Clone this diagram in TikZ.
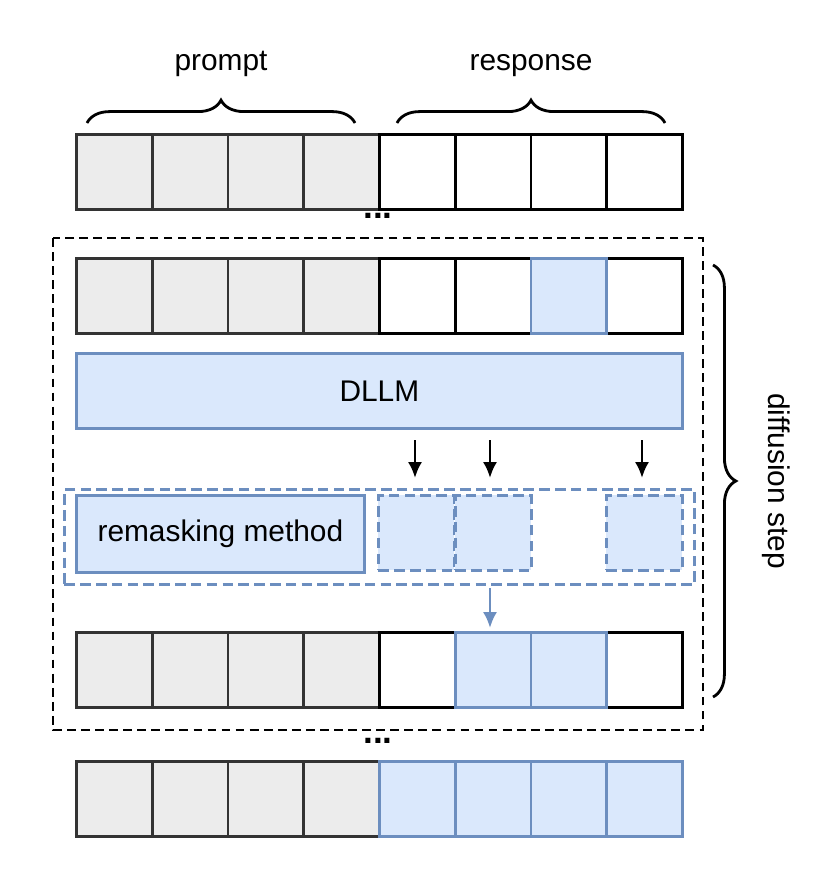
\documentclass[tikz,border=0pt]{standalone}
\usepackage{fontspec}
\setmainfont{Liberation Sans}
\usetikzlibrary{positioning,decorations.pathreplacing,arrows.meta}

\begin{document}
\begin{tikzpicture}[x=0.02cm,y=-0.02cm, >={Latex[length=9pt,width=8pt]},
	font=\fontsize{17}{20}\selectfont]
	\tikzset{cell/.style={draw, line width=1.6pt, minimum width=75.75*0.02cm, minimum height=75*0.02cm, inner sep=0pt, anchor=north west},
		grey/.style={cell, fill=gray!15, draw=black!80},
		blue/.style={cell, fill={rgb,255:red,218;green,232;blue,252}, draw={rgb,255:red,108;green,142;blue,191}},
		empty/.style={cell, fill=white},
		dashcell/.style={blue, dash pattern=on 6pt off 3pt},
		brace/.style={decorate, decoration={brace, amplitude=13pt, aspect=0.5}, line width=1.6pt}}
	\useasboundingbox (0,0) rectangle (830,896);
	%Top Row
	\foreach \i in {0,...,3} \node[grey](a\i) at (75+75.75*\i,133){};
	\foreach \i in {4,...,7} \node[empty](a\i) at (75+75.75*\i,133){};
	%Second Row
	\foreach \i in {0,...,3} \node[grey](b\i) at (75+75.75*\i,257){};
	\foreach \i in {4,5,7} \node[empty](b\i) at (75+75.75*\i,257){};
	\node[blue](b6) at (75+75.75*6,257){};
	%DLLM
	\node[blue, minimum width=606*0.02cm](dllm) at (75,352){DLLM};
	%Remasking
	\node[draw={rgb,255:red,108;green,142;blue,191}, dash pattern=on 6pt off 3pt, line width=1.6pt, minimum width=630*0.02cm, minimum height=95*0.02cm, anchor=north west](rbox) at (63,488){};
	\node[blue, minimum width=288*0.02cm, minimum height=77*0.02cm](remask) at (75,494){remasking method};
	\node[dashcell](c4) at (377,494){};
	\node[dashcell](c5) at (454,494){};
	\node[dashcell](c7) at (605,494){};
	\foreach \x in {415,490,642}
		\draw[->, line width=1.6pt] (\x,440) -- (\x,478);
	\coordinate (s) at (490,588);
	\coordinate (t) at (490,628);
	\draw[->, line width=1.6pt, draw={rgb,255:red,108;green,142;blue,191}, fill={rgb,255:red,108;green,142;blue,191}] (s) -- (t);
	%Third Row
	\foreach \i in {0,...,3} \node[grey](d\i) at (75+75.75*\i,631){};
	\foreach \i in {4,7} \node[empty](d\i) at (75+75.75*\i,631){};
	\foreach \i in {5,6} \node[blue](d\i) at (75+75.75*\i,631){};
	%Fourth Row
	\foreach \i in {0,...,3} \node[grey](e\i) at (75+75.75*\i,760){};
	\foreach \i in {4,...,7} \node[blue](e\i) at (75+75.75*\i,760){};
	%Outer step box
	\draw[dash pattern=on 5pt off 3pt, line width=1.6pt] (53,238) rectangle (703,730);
	\node[inner sep=0pt] at (378,216){\textbf{\fontsize{20}{20}\selectfont...}};
	\node[inner sep=0pt] at (378,741){\textbf{\fontsize{20}{20}\selectfont...}};
	%Braces
	\draw[brace] (87,123) -- (355,123) node[midway, above=22pt]{prompt};
	\draw[brace] (397,123) -- (665,123) node[midway, above=22pt]{response};
	\draw[brace] (713,265) -- (713,697) node[midway, right=24pt, rotate=-90, anchor=south]{diffusion step};
\end{tikzpicture}
\end{document}
